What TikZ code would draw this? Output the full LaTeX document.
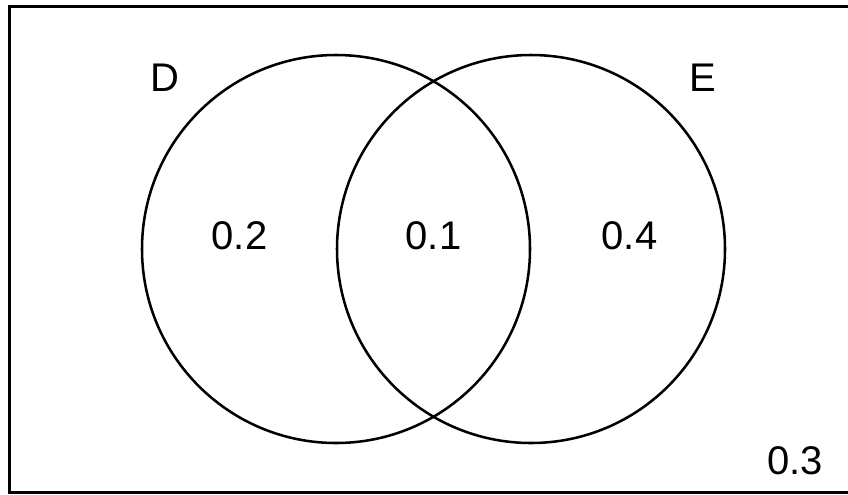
\documentclass[tikz,border=0pt]{standalone}
\usepackage{fontspec}
\setmainfont{Liberation Sans}
\begin{document}
\begin{tikzpicture}[x=0.75pt,y=-0.75pt,
  setcircle/.style={draw=black,line width=1.9pt,circle,minimum size=388*0.75pt,inner sep=0pt},
  lbl/.style={font=\fontsize{30pt}{36pt}\selectfont,inner sep=0pt}]
\useasboundingbox (0,0) rectangle (848,494);
\clip (0,0) rectangle (848,494);
\draw[line width=2.2pt] (9.5,6.5) rectangle (860,492.5);
\node[setcircle] (D) at (336,249) {};
\node[setcircle] (E) at (531,249) {};
\node[lbl] (dl) at (165,78) {D};
\node[lbl] (el) at (703,78) {E};
\node[lbl] (a) at (239.5,236) {0.2};
\node[lbl] (b) at (433.5,236) {0.1};
\node[lbl] (c) at (629.5,236) {0.4};
\node[lbl] (o) at (795,461) {0.3};
\end{tikzpicture}
\end{document}
